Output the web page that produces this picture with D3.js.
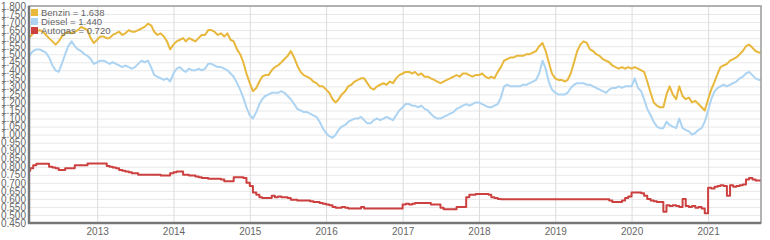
<!DOCTYPE html>
<html>
<head>
<meta charset="utf-8">
<script src="https://cdn.jsdelivr.net/npm/d3@7"></script>
<style>
  body { margin: 0; background: #fff; }
  svg { display: block; font-family: "Liberation Sans", Arial, sans-serif; }
</style>
</head>
<body>
<div id="chart"></div>
<script>
// months of the series, two readings per month (1st and 16th)
var months = [
  "2012-02","2012-03","2012-04","2012-05","2012-06","2012-07","2012-08","2012-09","2012-10","2012-11","2012-12",
  "2013-01","2013-02","2013-03","2013-04","2013-05","2013-06","2013-07","2013-08","2013-09","2013-10","2013-11","2013-12",
  "2014-01","2014-02","2014-03","2014-04","2014-05","2014-06","2014-07","2014-08","2014-09","2014-10","2014-11","2014-12",
  "2015-01","2015-02","2015-03","2015-04","2015-05","2015-06","2015-07","2015-08","2015-09","2015-10","2015-11","2015-12",
  "2016-01","2016-02","2016-03","2016-04","2016-05","2016-06","2016-07","2016-08","2016-09","2016-10","2016-11","2016-12",
  "2017-01","2017-02","2017-03","2017-04","2017-05","2017-06","2017-07","2017-08","2017-09","2017-10","2017-11","2017-12",
  "2018-01","2018-02","2018-03","2018-04","2018-05","2018-06","2018-07","2018-08","2018-09","2018-10","2018-11","2018-12",
  "2019-01","2019-02","2019-03","2019-04","2019-05","2019-06","2019-07","2019-08","2019-09","2019-10","2019-11","2019-12",
  "2020-01","2020-02","2020-03","2020-04","2020-05","2020-06","2020-07","2020-08","2020-09","2020-10","2020-11","2020-12",
  "2021-01","2021-02","2021-03","2021-04","2021-05","2021-06","2021-07","2021-08","2021-09"
];
var halfDays = ["01", "16"];

var benzin = [
  1.60,1.61, 1.63,1.64, 1.65,1.64, 1.62,1.60, 1.58,1.56, 1.58,1.61, 1.63,1.64, 1.63,1.64, 1.65,1.67, 1.66,1.65, 1.60,1.57,
  1.59,1.61, 1.61,1.60, 1.60,1.62, 1.63,1.64, 1.62,1.63, 1.65,1.64, 1.64,1.65, 1.66,1.67, 1.69,1.68, 1.64,1.62, 1.63,1.61, 1.58,1.53,
  1.56,1.58, 1.59,1.60, 1.58,1.60, 1.59,1.58, 1.60,1.62, 1.62,1.65, 1.65,1.64, 1.62,1.63, 1.61,1.63, 1.59,1.58, 1.53,1.50, 1.45,1.38,
  1.32,1.27, 1.29,1.33, 1.36,1.37, 1.37,1.40, 1.42,1.43, 1.45,1.47, 1.49,1.52, 1.48,1.43, 1.39,1.37, 1.36,1.35, 1.33,1.32, 1.30,1.30,
  1.28,1.26, 1.22,1.20, 1.22,1.25, 1.27,1.30, 1.31,1.33, 1.34,1.35, 1.35,1.32, 1.29,1.28, 1.30,1.31, 1.32,1.31, 1.33,1.32, 1.35,1.37,
  1.38,1.39, 1.39,1.38, 1.39,1.37, 1.38,1.36, 1.36,1.35, 1.34,1.33, 1.32,1.33, 1.34,1.35, 1.36,1.37, 1.36,1.38, 1.38,1.37, 1.36,1.37,
  1.37,1.38, 1.36,1.35, 1.36,1.35, 1.39,1.42, 1.46,1.47, 1.48,1.48, 1.49,1.49, 1.49,1.50, 1.50,1.51, 1.52,1.55, 1.57,1.52, 1.45,1.38,
  1.35,1.34, 1.34,1.33, 1.34,1.38, 1.45,1.52, 1.56,1.58, 1.57,1.53, 1.52,1.50, 1.49,1.47, 1.46,1.45, 1.43,1.42, 1.41,1.42, 1.41,1.42,
  1.41,1.42, 1.41,1.40, 1.39,1.33, 1.26,1.20, 1.18,1.17, 1.17,1.25, 1.30,1.25, 1.22,1.30, 1.24,1.22, 1.23,1.20, 1.21,1.19, 1.17,1.15,
  1.22,1.28, 1.33,1.38, 1.42,1.43, 1.44,1.46, 1.47,1.48, 1.50,1.52, 1.55,1.56, 1.54,1.52, 1.51,1.51
];

var diesel = [
  1.46,1.50, 1.52,1.53, 1.53,1.52, 1.51,1.48, 1.43,1.40, 1.39,1.44, 1.50,1.55, 1.58,1.55, 1.53,1.52, 1.50,1.49, 1.47,1.44,
  1.45,1.46, 1.46,1.45, 1.44,1.45, 1.44,1.43, 1.42,1.43, 1.42,1.41, 1.42,1.44, 1.46,1.45, 1.46,1.42, 1.37,1.36, 1.35,1.34, 1.35,1.33,
  1.38,1.41, 1.42,1.40, 1.39,1.41, 1.40,1.40, 1.41,1.40, 1.41,1.44, 1.44,1.43, 1.42,1.42, 1.41,1.40, 1.38,1.36, 1.32,1.28, 1.23,1.17,
  1.12,1.10, 1.14,1.19, 1.22,1.24, 1.25,1.26, 1.26,1.26, 1.27,1.26, 1.24,1.22, 1.19,1.16, 1.15,1.14, 1.14,1.13, 1.12,1.11, 1.08,1.04,
  1.01,0.99, 0.98,1.00, 1.03,1.05, 1.06,1.08, 1.09,1.10, 1.10,1.11, 1.09,1.07, 1.07,1.09, 1.10,1.09, 1.10,1.11, 1.10,1.09, 1.12,1.15,
  1.17,1.19, 1.19,1.18, 1.18,1.17, 1.18,1.16, 1.15,1.13, 1.11,1.10, 1.10,1.11, 1.12,1.13, 1.14,1.16, 1.17,1.18, 1.19,1.18, 1.19,1.20,
  1.20,1.19, 1.18,1.17, 1.17,1.18, 1.19,1.23, 1.30,1.31, 1.30,1.30, 1.30,1.30, 1.31,1.31, 1.32,1.33, 1.34,1.38, 1.46,1.41, 1.33,1.28,
  1.26,1.25, 1.25,1.25, 1.26,1.29, 1.31,1.32, 1.32,1.32, 1.31,1.31, 1.30,1.29, 1.28,1.27, 1.26,1.28, 1.29,1.29, 1.30,1.29, 1.30,1.30,
  1.30,1.35, 1.29,1.27, 1.22,1.16, 1.12,1.08, 1.05,1.04, 1.04,1.08, 1.06,1.05, 1.04,1.10, 1.04,1.03, 1.02,1.00, 1.01,1.03, 1.04,1.08,
  1.15,1.22, 1.27,1.29, 1.30,1.31, 1.30,1.31, 1.32,1.33, 1.35,1.36, 1.38,1.39, 1.37,1.35, 1.34,1.34
];

var autogas = [
  0.775,0.79, 0.81,0.818, 0.818,0.818, 0.818,0.80, 0.795,0.79, 0.78,0.78, 0.79,0.79, 0.79,0.81, 0.81,0.81, 0.81,0.82, 0.82,0.82,
  0.82,0.82, 0.82,0.805, 0.80,0.795, 0.79,0.78, 0.775,0.77, 0.765,0.76, 0.76,0.75, 0.75,0.75, 0.75,0.75, 0.75,0.75, 0.745,0.745, 0.745,0.76,
  0.765,0.77, 0.77,0.75, 0.75,0.745, 0.745,0.74, 0.735,0.73, 0.73,0.725, 0.725,0.725, 0.725,0.72, 0.71,0.71, 0.71,0.735, 0.735,0.735, 0.73,0.70,
  0.68,0.64, 0.625,0.61, 0.605,0.605, 0.605,0.62, 0.61,0.615, 0.61,0.61, 0.605,0.595, 0.595,0.59, 0.59,0.59, 0.59,0.585, 0.58,0.58, 0.575,0.57,
  0.565,0.56, 0.55,0.545, 0.545,0.55, 0.545,0.54, 0.54,0.54, 0.54,0.55, 0.54,0.54, 0.54,0.54, 0.54,0.54, 0.54,0.54, 0.54,0.54, 0.54,0.54,
  0.565,0.57, 0.565,0.57, 0.575,0.575, 0.575,0.575, 0.575,0.565, 0.565,0.565, 0.545,0.535, 0.535,0.535, 0.535,0.55, 0.55,0.55, 0.61,0.625, 0.625,0.63,
  0.63,0.63, 0.63,0.625, 0.61,0.605, 0.60,0.597, 0.597,0.597, 0.597,0.597, 0.597,0.597, 0.597,0.597, 0.597,0.597, 0.597,0.597, 0.597,0.597, 0.597,0.597,
  0.597,0.597, 0.597,0.597, 0.597,0.597, 0.597,0.597, 0.597,0.597, 0.597,0.597, 0.597,0.597, 0.597,0.597, 0.597,0.59, 0.58,0.58, 0.58,0.59, 0.605,0.615,
  0.64,0.64, 0.64,0.635, 0.62,0.60, 0.59,0.585, 0.58,0.58, 0.52,0.56, 0.555,0.56, 0.555,0.55, 0.60,0.555, 0.55,0.555, 0.545,0.55, 0.54,0.51,
  0.67,0.665, 0.675,0.68, 0.685,0.68, 0.62,0.685, 0.675,0.68, 0.685,0.69, 0.72,0.73, 0.72,0.715, 0.715,0.72
];

var seriesNames  = ["Benzin", "Diesel", "Autogas"];
var legendValues = ["1.638", "1.440", "0.720"];
var seriesColors = ["#e8b83c", "#acd4f2", "#cc4040"];

var yTicks = [0.45,0.50,0.55,0.60,0.65,0.70,0.75,0.80,0.85,0.90,0.95,1.00,1.05,1.10,1.15,
              1.20,1.25,1.30,1.35,1.40,1.45,1.50,1.55,1.60,1.65,1.70,1.75,1.80];
var yearTicks = [2013, 2014, 2015, 2016, 2017, 2018, 2019, 2020, 2021];
var xStart = "2012-02-10", xEnd = "2021-09-11";

// chart setup
var width = 770, height = 240;
var plotL = 29, plotR = 761, plotT = 6, plotB = 223;
var parse = d3.utcParse("%Y-%m-%d");

var dates = [];
months.forEach(function(m) {
  halfDays.forEach(function(d) { dates.push(parse(m + "-" + d)); });
});

var x = d3.scaleUtc()
          .domain([parse(xStart), parse(xEnd)])
          .range([plotL, plotR]);
var y = d3.scaleLinear()
          .domain([0.45, 1.8])
          .range([plotB, plotT]);

var svg = d3.select("#chart")
            .append("svg")
            .attr("width", width)
            .attr("height", height);

svg.append("rect")
   .attr("width", width)
   .attr("height", height)
   .style("fill", "white");

// horizontal grid
svg.append("g")
   .attr("transform", "translate(" + plotL + ",0)")
   .call(d3.axisLeft(y).tickValues(yTicks).tickSize(-(plotR - plotL)).tickFormat(""))
   .call(function(g) {
     g.select(".domain").remove();
     g.selectAll("line").attr("stroke", "#e8e8e8");
   });

// vertical grid at years
var yearDates = yearTicks.map(function(yr) { return parse(yr + "-01-01"); });
svg.append("g")
   .attr("transform", "translate(0," + plotB + ")")
   .call(d3.axisBottom(x).tickValues(yearDates).tickSize(-(plotB - plotT)).tickFormat(""))
   .call(function(g) {
     g.select(".domain").remove();
     g.selectAll("line").attr("stroke", "#dcdcdc");
   });

// y labels
svg.append("g")
   .attr("transform", "translate(" + plotL + ",0)")
   .call(d3.axisLeft(y).tickValues(yTicks).tickSize(0).tickPadding(3).tickFormat(d3.format(".3f")))
   .call(function(g) {
     g.select(".domain").remove();
     g.selectAll("text")
      .style("font-size", "10px")
      .style("font-family", "'Liberation Sans', Arial, sans-serif")
      .attr("fill", "#666");
   });

// x labels
svg.append("g")
   .attr("transform", "translate(0," + plotB + ")")
   .call(d3.axisBottom(x).tickValues(yearDates).tickSize(0).tickPadding(5).tickFormat(d3.utcFormat("%Y")))
   .call(function(g) {
     g.select(".domain").remove();
     g.selectAll("text")
      .style("font-size", "10px")
      .style("font-family", "'Liberation Sans', Arial, sans-serif")
      .attr("fill", "#666");
   });

// clip the lines to the plot area
svg.append("clipPath")
   .attr("id", "plotclip")
   .append("rect")
   .attr("x", plotL)
   .attr("y", plotT)
   .attr("width", plotR - plotL)
   .attr("height", plotB - plotT);

var plot = svg.append("g").attr("clip-path", "url(#plotclip)");

var lineLin = d3.line()
                .x(function(d, i) { return x(dates[i]); })
                .y(function(d) { return y(d); });
var lineStep = d3.line()
                 .curve(d3.curveStepAfter)
                 .x(function(d, i) { return x(dates[i]); })
                 .y(function(d) { return y(d); });

[benzin, diesel, autogas].forEach(function(vals, k) {
  plot.append("path")
      .datum(vals)
      .attr("d", k == 2 ? lineStep : lineLin)
      .attr("fill", "none")
      .attr("stroke", seriesColors[k])
      .attr("stroke-width", 2)
      .attr("stroke-linejoin", "round");
});

// frame: light top/right, dark left/bottom axes
svg.append("rect")
   .attr("x", plotL)
   .attr("y", plotT)
   .attr("width", plotR - plotL)
   .attr("height", plotB - plotT)
   .attr("fill", "none")
   .attr("stroke", "#9a9a9a")
   .attr("stroke-width", 1.5);
svg.append("path")
   .attr("d", "M" + plotL + "," + plotT + "V" + plotB + "H" + plotR)
   .attr("fill", "none")
   .attr("stroke", "#777")
   .attr("stroke-width", 2.5);

// legend
var legend = svg.append("g").attr("transform", "translate(31,9)");
seriesNames.forEach(function(name, i) {
  var row = legend.append("g").attr("transform", "translate(0," + (i * 9) + ")");
  row.append("rect")
     .attr("width", 7)
     .attr("height", 7)
     .attr("fill", seriesColors[i]);
  row.append("text")
     .attr("x", 10)
     .attr("y", 6.5)
     .style("font-size", "9.5px")
     .attr("fill", "#666")
     .text(name + " = " + legendValues[i]);
});
</script>
</body>
</html>
